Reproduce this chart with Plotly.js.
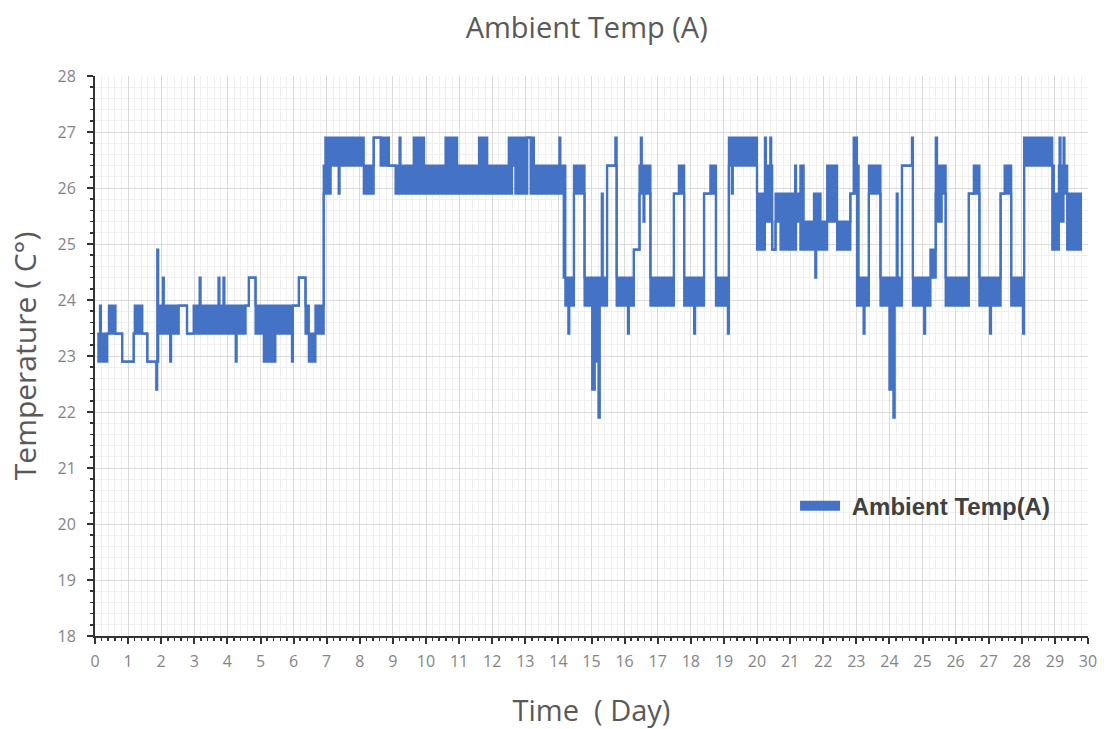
<!DOCTYPE html>
<html>
<head>
<meta charset="utf-8">
<script src="https://cdn.plot.ly/plotly-3.0.1.min.js"></script>
<style>
  html, body { margin: 0; padding: 0; background: #ffffff; }
  #chart { width: 1107px; height: 729px; }
</style>
</head>
<body>
<div id="chart"></div>
<script>
// Readings summarised per interval: start day, lowest and highest temperature seen in the interval (°C)
const segStart = [
  0.07, 0.15, 0.18, 0.37, 0.42, 0.62, 0.82, 1.17, 1.20, 1.43,
  1.58, 1.85, 1.88, 1.91, 2.05, 2.08, 2.27, 2.30, 2.53, 2.78,
  2.98, 3.16, 3.19, 3.73, 3.76, 3.88, 3.91, 4.25, 4.28, 4.55,
  4.65, 4.85, 5.10, 5.45, 5.95, 5.98, 6.16, 6.36, 6.46, 6.66,
  6.91, 6.96, 7.12, 7.36, 7.39, 8.12, 8.42, 8.63, 8.88, 9.08,
  9.20, 9.23, 9.63, 9.94, 10.59, 10.94, 11.60, 11.85, 12.50, 12.60,
  12.70, 13.06, 13.16, 13.26, 14.03, 14.06, 14.16, 14.21, 14.30, 14.33,
  14.47, 14.79, 15.02, 15.10, 15.21, 15.25, 15.31, 15.34, 15.47, 15.72,
  15.76, 16.10, 16.13, 16.28, 16.45, 16.49, 16.52, 16.57, 16.60, 16.78,
  17.49, 17.64, 17.80, 18.10, 18.13, 18.40, 18.59, 18.76, 19.12, 19.15,
  19.24, 19.27, 20.00, 20.24, 20.27, 20.40, 20.43, 20.46, 20.56, 20.71,
  21.15, 21.18, 21.31, 21.41, 21.72, 21.76, 21.79, 21.92, 22.12, 22.42,
  22.82, 22.92, 23.02, 23.07, 23.22, 23.25, 23.38, 23.73, 24.00, 24.12,
  24.16, 24.22, 24.25, 24.38, 24.68, 24.71, 25.05, 25.08, 25.24, 25.40,
  25.44, 25.58, 25.70, 26.40, 26.55, 26.72, 27.04, 27.07, 27.36, 27.48,
  27.68, 28.04, 28.07, 28.92, 28.97, 29.12, 29.14, 29.17, 29.26, 29.29,
  29.37
];
const segLow = [
  22.9, 22.9, 22.9, 23.4, 23.4, 23.4, 22.9, 23.4, 23.4, 23.4,
  22.9, 22.4, 22.9, 23.4, 23.4, 23.4, 22.9, 23.4, 23.9, 23.4,
  23.4, 23.4, 23.4, 23.4, 23.4, 23.4, 23.4, 22.9, 23.4, 23.9,
  24.4, 23.4, 22.9, 23.4, 22.9, 23.9, 24.4, 23.4, 22.9, 23.4,
  25.9, 25.9, 26.4, 25.9, 26.4, 25.9, 26.9, 26.4, 26.4, 25.9,
  25.9, 25.9, 25.9, 25.9, 25.9, 25.9, 25.9, 25.9, 25.9, 26.4,
  25.9, 26.9, 25.9, 25.9, 25.9, 25.9, 24.4, 23.9, 23.4, 23.9,
  25.9, 23.9, 22.4, 22.9, 21.9, 23.9, 23.9, 23.9, 26.4, 26.4,
  23.9, 23.4, 23.9, 24.9, 25.9, 25.9, 25.9, 25.4, 25.9, 23.9,
  25.9, 25.9, 23.9, 23.4, 23.9, 25.9, 25.9, 23.9, 23.4, 26.4,
  25.9, 26.4, 24.9, 25.4, 25.4, 25.4, 25.4, 24.9, 25.4, 24.9,
  24.9, 25.4, 24.9, 24.9, 24.9, 24.4, 24.9, 24.9, 25.4, 24.9,
  25.9, 25.9, 23.9, 23.9, 23.4, 23.9, 25.9, 23.9, 22.4, 21.9,
  23.9, 23.9, 23.9, 26.4, 26.4, 23.9, 23.4, 23.9, 24.4, 25.9,
  25.4, 25.9, 23.9, 25.9, 25.9, 23.9, 23.4, 23.9, 25.9, 25.9,
  23.9, 23.4, 26.4, 24.9, 24.9, 25.9, 25.9, 25.4, 25.9, 25.9,
  24.9
];
const segHigh = [
  23.4, 23.9, 23.4, 23.4, 23.9, 23.4, 22.9, 23.4, 23.9, 23.4,
  22.9, 22.9, 24.9, 23.9, 24.4, 23.9, 23.9, 23.9, 23.9, 23.4,
  23.9, 24.4, 23.9, 24.4, 23.9, 24.4, 23.9, 23.9, 23.9, 23.9,
  24.4, 23.9, 23.9, 23.9, 23.9, 23.9, 24.4, 23.9, 23.4, 23.9,
  26.4, 26.9, 26.9, 26.9, 26.9, 26.4, 26.9, 26.9, 26.4, 26.4,
  26.9, 26.4, 26.9, 26.4, 26.9, 26.4, 26.9, 26.4, 26.9, 26.9,
  26.9, 26.9, 26.9, 26.4, 26.9, 26.4, 26.4, 24.4, 24.4, 24.4,
  26.4, 24.4, 24.4, 24.4, 24.4, 24.4, 25.9, 24.4, 26.4, 26.9,
  24.4, 24.4, 24.4, 24.9, 26.4, 26.9, 26.4, 26.4, 26.4, 24.4,
  25.9, 26.4, 24.4, 24.4, 24.4, 25.9, 26.4, 24.4, 24.4, 26.9,
  26.9, 26.9, 25.9, 26.9, 26.4, 26.9, 26.4, 24.9, 25.9, 25.9,
  26.4, 25.9, 26.4, 25.4, 25.9, 25.9, 25.9, 25.4, 26.4, 25.4,
  25.9, 26.9, 26.4, 24.4, 24.4, 24.4, 26.4, 24.4, 24.4, 24.4,
  24.4, 25.9, 24.4, 26.4, 26.9, 24.4, 24.4, 24.4, 24.9, 26.9,
  26.4, 26.4, 24.4, 25.9, 26.4, 24.4, 24.4, 24.4, 25.9, 26.4,
  24.4, 24.4, 26.9, 26.4, 25.9, 26.4, 26.9, 26.4, 26.9, 26.4,
  25.9
];
const endDay = 29.82;
const seriesName = 'Ambient Temp(A)';

const blue = '#4472C4';
const xs = segStart.concat([endDay]);
const lows = segLow.concat([segLow[segLow.length - 1]]);
const highs = segHigh.concat([segHigh[segHigh.length - 1]]);

const traces = [
  { x: xs, y: lows, type: 'scatter', mode: 'lines',
    line: { color: blue, width: 2.2, shape: 'hv' },
    showlegend: false, hoverinfo: 'skip' },
  { x: xs, y: highs, type: 'scatter', mode: 'lines',
    line: { color: blue, width: 2.2, shape: 'hv' },
    fill: 'tonexty', fillcolor: blue,
    showlegend: false, hoverinfo: 'skip' },
  { x: [null], y: [null], type: 'scatter', mode: 'lines',
    name: '\u00A0' + seriesName, line: { color: blue, width: 10 }, showlegend: true }
];

const tickFont = { family: 'Open Sans, Noto Sans, sans-serif', size: 16, color: '#858585' };

const layout = {
  width: 1107, height: 729,
  paper_bgcolor: '#ffffff', plot_bgcolor: '#ffffff',
  margin: { l: 95, r: 19, t: 76, b: 93 },
  title: { text: 'Ambient Temp (A)', x: 0.53, xanchor: 'center', y: 0.962, yanchor: 'middle',
           font: { family: 'Open Sans, Noto Sans, sans-serif', size: 29, color: '#595959' } },
  xaxis: {
    range: [0, 30], tick0: 0, dtick: 1, showline: true, linecolor: '#333333', linewidth: 2,
    ticks: 'outside', ticklen: 6, tickwidth: 2, tickcolor: '#333333',
    showgrid: true, gridcolor: '#dadada', gridwidth: 1, zeroline: false,
    tickfont: tickFont, ticklabelstandoff: 4,
    minor: { dtick: 0.2, ticks: 'outside', ticklen: 3, tickwidth: 1.5, tickcolor: '#333333',
             showgrid: true, gridcolor: '#f0f0f0', gridwidth: 1 },
    title: { text: 'Time \u00A0( Day)', font: { family: 'Open Sans, Noto Sans, sans-serif', size: 29, color: '#595959' }, standoff: 30 },
    fixedrange: true
  },
  yaxis: {
    range: [18, 28], tick0: 18, dtick: 1, showline: true, linecolor: '#333333', linewidth: 2,
    ticks: 'outside', ticklen: 6, tickwidth: 2, tickcolor: '#333333',
    showgrid: true, gridcolor: '#dadada', gridwidth: 1, zeroline: false,
    tickfont: tickFont, ticklabelstandoff: 8,
    minor: { dtick: 0.2, ticks: 'outside', ticklen: 3, tickwidth: 1.5, tickcolor: '#333333',
             showgrid: true, gridcolor: '#f0f0f0', gridwidth: 1 },
    title: { text: 'Temperature ( C°)', font: { family: 'Open Sans, Noto Sans, sans-serif', size: 30, color: '#595959' }, standoff: 12 },
    fixedrange: true
  },
  legend: {
    x: 0.705, xanchor: 'left', y: 0.232, yanchor: 'middle',
    bgcolor: 'rgba(255,255,255,0)', borderwidth: 0,
    font: { family: 'Liberation Sans, Arial, sans-serif', size: 24, color: '#404040', weight: 'bold' },
    itemwidth: 40
  },
  showlegend: true
};

Plotly.newPlot('chart', traces, layout, { displayModeBar: false, staticPlot: true });
</script>
</body>
</html>
